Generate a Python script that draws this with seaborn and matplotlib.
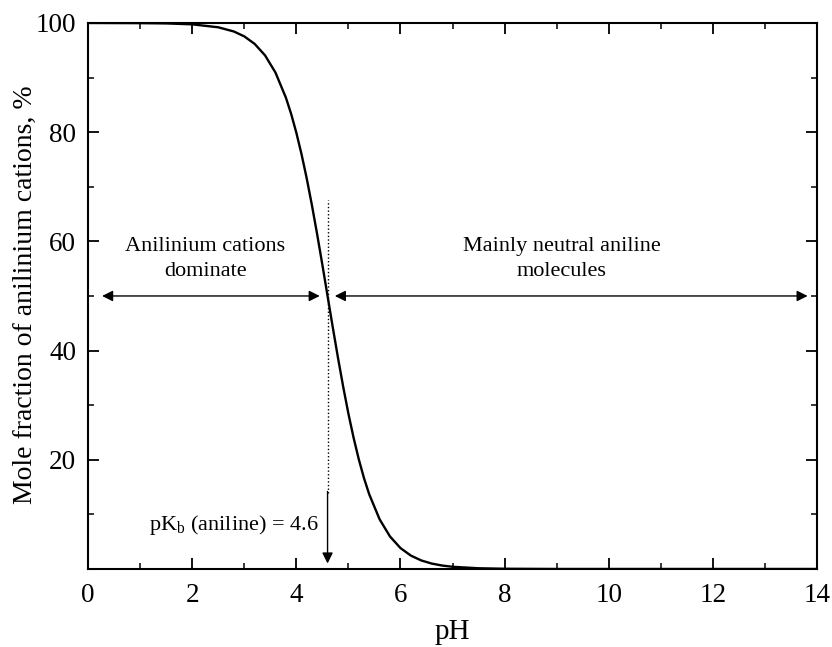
import matplotlib
matplotlib.use("Agg")
import matplotlib.pyplot as plt
import seaborn as sns
import pandas as pd
from matplotlib.ticker import MultipleLocator

ph = [0.0, 1.0, 1.5, 2.0, 2.5, 2.8, 3.0, 3.2, 3.4, 3.6, 3.8, 3.9, 4.0, 4.1, 4.2, 4.3,
      4.4, 4.5, 4.6, 4.7, 4.8, 4.9, 5.0, 5.1, 5.2, 5.3, 5.4, 5.6, 5.8, 6.0, 6.2, 6.4,
      6.6, 6.8, 7.0, 7.5, 8.0, 9.0, 10.0, 12.0, 14.0]
fraction = [100.0, 99.97, 99.92, 99.75, 99.21, 98.44, 97.55, 96.17, 94.06, 90.91, 86.32,
            83.37, 79.92, 75.97, 71.53, 66.61, 61.31, 55.73, 50.0, 44.27, 38.69, 33.39,
            28.47, 24.03, 20.08, 16.63, 13.68, 9.09, 5.94, 3.83, 2.45, 1.56, 0.99, 0.63,
            0.40, 0.13, 0.04, 0.0, 0.0, 0.0, 0.0]

xticks = [0, 2, 4, 6, 8, 10, 12, 14]
yticks = [20, 40, 60, 80, 100]
pka = 4.6

sns.set_theme(style="white")
plt.rcParams['font.family'] = ['Liberation Serif', 'DejaVu Serif']
plt.rcParams['mathtext.fontset'] = 'custom'
plt.rcParams['mathtext.rm'] = 'Liberation Serif'
plt.rcParams['text.color'] = 'black'
plt.rcParams['axes.labelcolor'] = 'black'

fig = plt.figure(figsize=(8.32, 6.47), dpi=100)
ax = fig.add_axes([0.1058, 0.1206, 0.8762, 0.8439])

df = pd.DataFrame({"pH": ph, "frac": fraction})
sns.lineplot(data=df, x="pH", y="frac", ax=ax, color="black", linewidth=1.7)

ax.set_xlim(0, 14)
ax.set_ylim(0, 100)
ax.set_xticks(xticks)
ax.set_yticks(yticks)
ax.xaxis.set_minor_locator(MultipleLocator(1))
ax.yaxis.set_minor_locator(MultipleLocator(10))
ax.tick_params(axis='both', which='both', direction='in', top=True, right=True,
               bottom=True, left=True, colors='black', labelsize=19.5)
ax.tick_params(which='major', length=8, width=1.3)
ax.tick_params(which='minor', length=4.5, width=1.1)
ax.tick_params(axis='x', pad=10)
ax.tick_params(axis='y', pad=8.5)
for s in ax.spines.values():
    s.set_color('black')
    s.set_linewidth(1.5)

ax.set_xlabel("pH", fontsize=21, labelpad=8, color='black')
ax.set_ylabel("Mole fraction of anilinium cations, %", fontsize=20, color='black')
ax.yaxis.set_label_coords(-0.0686, 0.503)

# dotted line at pKa
ax.plot([pka, pka], [14, 67.6], color='black', linestyle=(0, (1, 1.6)), linewidth=1.0)
ax.annotate("", xy=(pka, 1.0), xytext=(pka, 14.2),
            arrowprops=dict(arrowstyle='-|>', color='black', lw=1.0, mutation_scale=16,
                            shrinkA=0, shrinkB=0))
ax.text(4.42, 8.0, r"pK$_\mathregular{b}$ (aniline) = 4.6", fontsize=16, ha='right',
        va='center', color='black')

# double arrows
ax.annotate("", xy=(0.27, 50), xytext=(4.45, 50),
            arrowprops=dict(arrowstyle='<|-|>', color='black', lw=1.0, mutation_scale=16,
                            shrinkA=0, shrinkB=0))
ax.annotate("", xy=(4.74, 50), xytext=(13.82, 50),
            arrowprops=dict(arrowstyle='<|-|>', color='black', lw=1.0, mutation_scale=16,
                            shrinkA=0, shrinkB=0))
ax.text(2.25, 56.8, "Anilinium cations\ndominate", fontsize=16, ha='center', va='center',
        linespacing=1.4, color='black')
ax.text(9.1, 56.8, "Mainly neutral aniline\nmolecules", fontsize=16, ha='center', va='center',
        linespacing=1.4, color='black')

fig.savefig("out.png", dpi=100)
